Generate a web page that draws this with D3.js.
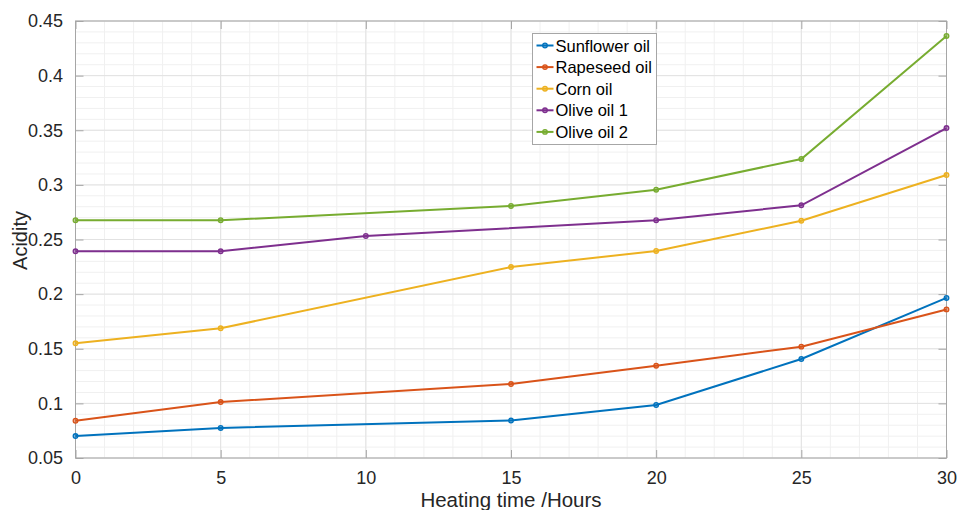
<!DOCTYPE html>
<html>
<head>
<meta charset="utf-8">
<script src="https://cdn.jsdelivr.net/npm/d3@7"></script>
<style>
  body { margin: 0; background: #fff; }
  text { font-family: "Liberation Sans", Arial, sans-serif; }
</style>
</head>
<body>
<svg id="chart" width="959" height="510"></svg>
<script>
// data
const seriesNames = ["Sunflower oil", "Rapeseed oil", "Corn oil", "Olive oil 1", "Olive oil 2"];
const seriesColors = ["#0072BD", "#D95319", "#EDB120", "#7E2F8E", "#77AC30"];

const sunflowerX = [0, 5, 15, 20, 25, 30];
const sunflowerY = [0.0701, 0.0775, 0.0843, 0.0985, 0.1406, 0.1965];
const rapeseedX = [0, 5, 15, 20, 25, 30];
const rapeseedY = [0.0841, 0.1012, 0.1177, 0.1345, 0.1519, 0.186];
const cornX = [0, 5, 15, 20, 25, 30];
const cornY = [0.155, 0.1687, 0.2248, 0.2395, 0.2672, 0.309];
const olive1X = [0, 5, 10, 20, 25, 30];
const olive1Y = [0.2392, 0.2392, 0.2532, 0.2676, 0.2813, 0.352];
const olive2X = [0, 5, 15, 20, 25, 30];
const olive2Y = [0.2676, 0.2676, 0.2807, 0.2956, 0.3237, 0.4363];

const xTicks = [0, 5, 10, 15, 20, 25, 30];
const yTicks = [0.05, 0.1, 0.15, 0.2, 0.25, 0.3, 0.35, 0.4, 0.45];

const allX = [sunflowerX, rapeseedX, cornX, olive1X, olive2X];
const allY = [sunflowerY, rapeseedY, cornY, olive1Y, olive2Y];

const svg = d3.select("#chart");
const plotL = 75.5, plotR = 946.5, plotT = 21, plotB = 458;

const x = d3.scaleLinear().domain([0, 30]).range([plotL, plotR]);
const y = d3.scaleLinear().domain([0.05, 0.45]).range([plotB, plotT]);

// minor grid
const g = svg.append("g");
g.selectAll(".mx").data(d3.range(0, 31, 1)).enter().append("line")
    .attr("x1", d => x(d)).attr("x2", d => x(d))
    .attr("y1", plotT).attr("y2", plotB)
    .attr("stroke", "#f0f0f0").attr("stroke-width", 1);
g.selectAll(".my").data(d3.range(5, 46, 1).map(d => d / 100)).enter().append("line")
    .attr("y1", d => y(d)).attr("y2", d => y(d))
    .attr("x1", plotL).attr("x2", plotR)
    .attr("stroke", "#f0f0f0").attr("stroke-width", 1);

// major grid
g.selectAll(".gx").data(xTicks).enter().append("line")
    .attr("x1", d => x(d)).attr("x2", d => x(d))
    .attr("y1", plotT).attr("y2", plotB)
    .attr("stroke", "#e2e2e2").attr("stroke-width", 1);
g.selectAll(".gy").data(yTicks).enter().append("line")
    .attr("y1", d => y(d)).attr("y2", d => y(d))
    .attr("x1", plotL).attr("x2", plotR)
    .attr("stroke", "#e2e2e2").attr("stroke-width", 1);

// axes (MATLAB style: ticks inside, box on)
const tickLen = 8;
const axisColor = "#a6a6a6";
svg.append("g").attr("transform", `translate(0,${plotB})`)
    .call(d3.axisBottom(x).tickValues(xTicks).tickSizeInner(-tickLen).tickSizeOuter(0).tickPadding(13))
    .call(a => a.select(".domain").remove());
svg.append("g").attr("transform", `translate(0,${plotT})`)
    .call(d3.axisTop(x).tickValues(xTicks).tickSizeInner(-tickLen).tickSizeOuter(0).tickFormat(""))
    .call(a => a.select(".domain").remove());
svg.append("g").attr("transform", `translate(${plotL},0)`)
    .call(d3.axisLeft(y).tickValues(yTicks).tickSizeInner(-tickLen).tickSizeOuter(0).tickPadding(12.5).tickFormat(d3.format("~g")))
    .call(a => a.select(".domain").remove());
svg.append("g").attr("transform", `translate(${plotR},0)`)
    .call(d3.axisRight(y).tickValues(yTicks).tickSizeInner(-tickLen).tickSizeOuter(0).tickFormat(""))
    .call(a => a.select(".domain").remove());

svg.selectAll(".tick line").attr("stroke", axisColor);
svg.selectAll(".tick text").attr("fill", "#262626").style("font-size", "18px");

svg.append("rect")
    .attr("x", plotL).attr("y", plotT)
    .attr("width", plotR - plotL).attr("height", plotB - plotT)
    .attr("fill", "none").attr("stroke", axisColor).attr("stroke-width", 1);

// lines
const line = d3.line().x(d => x(d[0])).y(d => y(d[1]));
seriesNames.forEach((name, i) => {
    const pts = allX[i].map((v, j) => [v, allY[i][j]]);
    svg.append("path").datum(pts)
        .attr("d", line)
        .attr("fill", "none")
        .attr("stroke", seriesColors[i])
        .attr("stroke-width", 2);
    svg.selectAll(".m" + i).data(pts).enter().append("circle")
        .attr("cx", d => x(d[0])).attr("cy", d => y(d[1]))
        .attr("r", 2.3)
        .attr("fill", seriesColors[i]).attr("fill-opacity", 0.5)
        .attr("stroke", seriesColors[i]).attr("stroke-width", 1.3);
});

// axis labels
svg.append("text")
    .attr("x", (plotL + plotR) / 2).attr("y", 506.5)
    .attr("text-anchor", "middle")
    .attr("fill", "#262626")
    .style("font-size", "20.5px")
    .text("Heating time /Hours");
svg.append("text")
    .attr("transform", `translate(27,${(plotT + plotB) / 2 + 1}) rotate(-90)`)
    .attr("text-anchor", "middle")
    .attr("fill", "#262626")
    .style("font-size", "20px")
    .text("Acidity");

// legend
const lg = svg.append("g").attr("transform", "translate(532.5,33.5)");
lg.append("rect").attr("width", 124).attr("height", 111)
    .attr("fill", "#fff").attr("stroke", "#a6a6a6");
seriesNames.forEach((name, i) => {
    const cy = 12 + i * 21.6;
    lg.append("line").attr("x1", 4).attr("x2", 21).attr("y1", cy).attr("y2", cy)
        .attr("stroke", seriesColors[i]).attr("stroke-width", 2);
    lg.append("circle").attr("cx", 12.5).attr("cy", cy).attr("r", 2.3)
        .attr("fill", seriesColors[i]).attr("fill-opacity", 0.5)
        .attr("stroke", seriesColors[i]).attr("stroke-width", 1.3);
    lg.append("text").attr("x", 23).attr("y", cy + 6)
        .attr("fill", "#000")
        .style("font-size", "16.5px")
        .text(name);
});
</script>
</body>
</html>
